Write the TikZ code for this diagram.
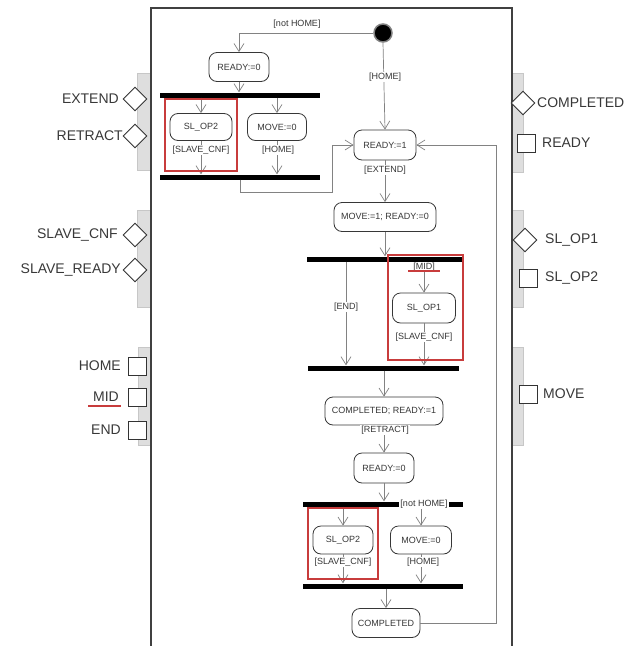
\documentclass[tikz,border=0pt]{standalone}
\usepackage{fontspec}
\setmainfont{Liberation Sans}
\usetikzlibrary{arrows.meta,shapes.geometric}
\definecolor{regred}{RGB}{200,60,60}
\definecolor{linegray}{RGB}{130,130,130}
\definecolor{inkgray}{RGB}{55,55,55}
\tikzset{
  act/.style={draw=inkgray, line width=0.8pt, rounded corners=8pt, fill=white,
    inner sep=2pt, font=\fontsize{9}{10}\selectfont, text=inkgray},
  bar/.style={fill=black, inner sep=0pt, minimum height=5pt},
  flow/.style={draw=linegray, line width=0.7pt, -{Straight Barb[length=8pt,width=10pt]}},
  guard/.style={font=\fontsize{9}{10}\selectfont, text=inkgray, inner sep=1pt, fill=white},
  pin/.style={draw=black!80, line width=0.9pt, fill=white, inner sep=0pt},
  inport/.style={pin, diamond, minimum width=24pt, minimum height=24pt},
  outport/.style={pin, rectangle, minimum width=18pt, minimum height=18pt},
  portlbl/.style={font=\fontsize{14}{15}\selectfont, text=black!78, inner sep=0pt},
  panel/.style={fill=black!13, draw=black!22, line width=0.4pt},
  region/.style={draw=regred, line width=1.2pt},
  redline/.style={draw=regred, line width=2.2pt},
}
\begin{document}
\begin{tikzpicture}[x=1pt,y=-1pt]
\useasboundingbox (0,0) rectangle (636,646);

% interface panels
\fill[panel] (137,73) rectangle (151,170);
\fill[panel] (137,210) rectangle (151,307);
\fill[panel] (138,347) rectangle (151,445);
\fill[panel] (512,73) rectangle (523,172);
\fill[panel] (512,210) rectangle (523,307);
\fill[panel] (512,347) rectangle (523,445);

% block frame
\draw[line width=1.3pt, black!75] (151,646) -- (151,8) -- (512,8) -- (512,646);

% input ports (left)
\node[inport] (pExtend) at (135,99) {};
\node[portlbl, anchor=east] (lExtend) at (119,99) {EXTEND};
\node[inport] (pRetract) at (135,136) {};
\node[portlbl, anchor=east] (lRetract) at (123,136) {RETRACT};
\node[inport] (pSlaveCnf) at (135,235) {};
\node[portlbl, anchor=east] (lSlaveCnf) at (118,235) {SLAVE\_CNF};
\node[inport] (pSlaveReady) at (135,270) {};
\node[portlbl, anchor=east] (lSlaveReady) at (121,270) {SLAVE\_READY};
\node[outport] (pHome) at (137,366) {};
\node[portlbl, anchor=east] (lHome) at (121,366) {HOME};
\node[outport] (pMid) at (137,397) {};
\node[portlbl, anchor=east] (lMid) at (119,397) {MID};
\draw[redline] (88,406) -- (121,406);
\node[outport] (pEnd) at (137,430) {};
\node[portlbl, anchor=east] (lEnd) at (121,430) {END};

% output ports (right)
\node[inport] (pCompleted) at (523,103) {};
\node[portlbl, anchor=west] (lCompleted) at (537,103) {COMPLETED};
\node[outport] (pReady) at (526,143) {};
\node[portlbl, anchor=west] (lReady) at (542,143) {READY};
\node[inport] (pSlOp1) at (525,240) {};
\node[portlbl, anchor=west] (lSlOp1) at (545,240) {SL\_OP1};
\node[outport] (pSlOp2) at (528,278) {};
\node[portlbl, anchor=west] (lSlOp2) at (545,278) {SL\_OP2};
\node[outport] (pMove) at (528,394) {};
\node[portlbl, anchor=west] (lMove) at (543,394) {MOVE};

% initial state
\node[circle, fill=black, draw=black!50, line width=1.5pt, minimum size=18pt, inner sep=0pt] (init) at (383,33) {};

% actions
\node[act, minimum width=60pt, minimum height=29pt] (r0) at (239,67) {READY:=0};
\node[act, minimum width=62pt, minimum height=27pt] (sl2a) at (201,127) {SL\_OP2};
\node[act, minimum width=59pt, minimum height=27pt] (mv0a) at (277,127) {MOVE:=0};
\node[act, minimum width=62pt, minimum height=30pt] (r1) at (385,145) {READY:=1};
\node[act, minimum width=102pt, minimum height=29pt] (m1) at (385,217) {MOVE:=1; READY:=0};
\node[act, minimum width=63pt, minimum height=30pt] (sl1) at (424,308) {SL\_OP1};
\node[act, minimum width=118pt, minimum height=28pt] (c1) at (384,411) {COMPLETED; READY:=1};
\node[act, minimum width=60pt, minimum height=30pt] (r2) at (384,468) {READY:=0};
\node[act, minimum width=60pt, minimum height=28pt] (sl2b) at (343,540) {SL\_OP2};
\node[act, minimum width=61pt, minimum height=28pt] (mv0b) at (421,540) {MOVE:=0};
\node[act, minimum width=68pt, minimum height=29pt] (cf) at (386,623) {COMPLETED};

% fork / join bars
\node[bar, minimum width=160pt] (f1) at (240,95) {};
\node[bar, minimum width=160pt] (j1) at (240,177) {};
\node[bar, minimum width=156pt] (f2) at (385,259) {};
\node[bar, minimum width=151pt] (j2) at (383.5,368) {};
\node[bar, minimum width=160pt] (f3) at (383,504) {};
\node[bar, minimum width=160pt] (j3) at (383,586) {};

% helper points for bent connectors
\coordinate (b1) at (332,192);
\coordinate (b2) at (496,145);
\coordinate (ex) at (346,0);

% connectors: first retract block
\draw[flow] (init.west) -| (r0.north);
\node[guard] (gNotHome1) at (297,24) {[not HOME]};
\draw[flow] (r0.south) -- (r0.south |- f1.north);
\draw[flow] (sl2a |- f1.south) -- (sl2a.north);
\draw[flow] (mv0a |- f1.south) -- (mv0a.north);
\draw[flow] (sl2a.south) -- (sl2a |- j1.north);
\draw[flow] (mv0a.south) -- (mv0a |- j1.north);
\node[guard] (gCnf1) at (201,150) {[SLAVE\_CNF]};
\node[guard] (gHome1) at (278,150) {[HOME]};
\draw[flow] (j1.south) |- (b1) |- (r1.west);

% extend sequence
\draw[flow] (init.south) -- (r1.north);
\node[guard] (gHome0) at (385,77) {[HOME]};
\draw[flow] (r1.south) -- (m1.north);
\node[guard] (gExtend) at (385,170) {[EXTEND]};
\draw[flow] (m1.south) -- (m1.south |- f2.north);
\draw[flow] (f2.south -| ex) -- (j2.north -| ex);
\node[guard] (gEnd) at (346,307) {[END]};
\draw[flow] (f2.south -| sl1) -- (sl1.north);
\node[guard] (gMid) at (424,267) {[MID]};
\draw[redline] ([xshift=-4pt,yshift=1pt]gMid.south west) -- ([xshift=4pt,yshift=1pt]gMid.south east);
\draw[flow] (sl1.south) -- (sl1 |- j2.north);
\node[guard] (gCnf2) at (424,337) {[SLAVE\_CNF]};
\draw[flow] (c1 |- j2.south) -- (c1.north);

% retract sequence
\draw[flow] (c1.south) -- (r2.north);
\node[guard] (gRetract) at (385,430) {[RETRACT]};
\draw[flow] (r2.south) -- (r2.south |- f3.north);
\draw[flow] (sl2b |- f3.south) -- (sl2b.north);
\draw[flow] (mv0b |- f3.south) -- (mv0b.north);
\node[guard] (gNotHome2) at (424,504) {[not HOME]};
\draw[flow] (sl2b.south) -- (sl2b |- j3.north);
\draw[flow] (mv0b.south) -- (mv0b |- j3.north);
\node[guard] (gCnf3) at (343,562) {[SLAVE\_CNF]};
\node[guard] (gHome2) at (423,562) {[HOME]};
\draw[flow] (cf |- j3.south) -- (cf.north);
\draw[flow] (cf.east) -| (b2) -- (r1.east);

% highlighted regions
\draw[region] (165,99) rectangle (237,171);
\draw[region] (388,255) rectangle (463,360);
\draw[region] (308,508) rectangle (378,579);
\end{tikzpicture}
\end{document}
